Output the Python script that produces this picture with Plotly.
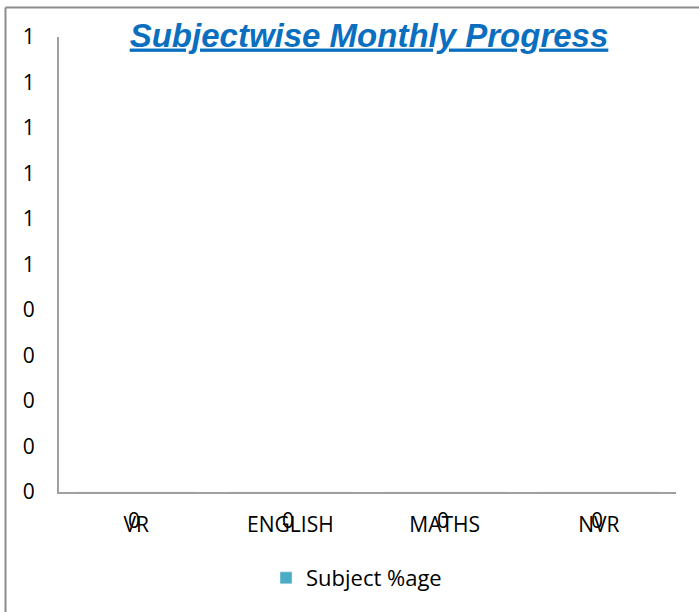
import plotly.graph_objects as go

categories = ["VR", "ENGLISH", "MATHS", "NVR"]
subject_pct = [0, 0, 0, 0]
data_labels = ["0", "0", "0", "0"]
y_tick_values = [0, 0.1, 0.2, 0.3, 0.4, 0.5, 0.6, 0.7, 0.8, 0.9, 1.0]
y_tick_labels = ["0", "0", "0", "0", "0", "1", "1", "1", "1", "1", "1"]
series_name = "Subject %age"
title_text = "Subjectwise Monthly Progress"

W, H = 699, 612
ML, MR, MT, MB = 59, 23, 37, 120
pw = W - ML - MR
ph = H - MT - MB

def px_x(x):
    return (x - ML) / pw

def px_y(y):
    return (H - MB - y) / ph

FONT = "Open Sans"

fig = go.Figure()
fig.add_trace(go.Bar(
    x=categories, y=subject_pct, name=series_name,
    marker_color="#4BACC6", showlegend=True,
))

annotations = []
for c, v, t in zip(categories, subject_pct, data_labels):
    annotations.append(dict(
        x=c, y=v, xref="x", yref="y", text=t, showarrow=False,
        yanchor="middle", xanchor="center", yshift=-28, xshift=-2,
        font=dict(family=FONT, size=21, color="#000000"),
    ))

border = "#8C8C8C"
shapes = [
    dict(type="line", xref="paper", yref="paper",
         x0=px_x(5.5), x1=px_x(5.5), y0=px_y(640), y1=px_y(7.5),
         line=dict(color=border, width=2)),
    dict(type="line", xref="paper", yref="paper",
         x0=px_x(5.5), x1=px_x(720), y0=px_y(7.5), y1=px_y(7.5),
         line=dict(color=border, width=2)),
]

fig.update_layout(
    width=W, height=H,
    margin=dict(l=ML, r=MR, t=MT, b=MB, pad=0),
    paper_bgcolor="white", plot_bgcolor="white",
    title=dict(
        text="<b><i><u>" + title_text + "</u></i></b>",
        x=369 / W, xref="container", xanchor="center",
        y=1 - 35 / H, yref="container", yanchor="middle",
        font=dict(family="Liberation Sans", size=33, color="#0B6FC0"),
    ),
    xaxis=dict(
        showgrid=False, zeroline=False, showline=True,
        linecolor="#A0A0A0", linewidth=2, ticks="",
        tickfont=dict(family=FONT, size=21, color="#000000"),
        ticklabelstandoff=13,
    ),
    yaxis=dict(
        range=[0, 1], showgrid=False, zeroline=False, showline=True,
        linecolor="#A0A0A0", linewidth=2, ticks="",
        tickvals=y_tick_values, ticktext=y_tick_labels,
        tickfont=dict(family=FONT, size=21, color="#000000"),
        ticklabelstandoff=18,
    ),
    legend=dict(
        orientation="h", x=0.5 - 11 / pw, xanchor="center",
        y=px_y(578), yanchor="middle",
        font=dict(family=FONT, size=22, color="#000000"),
        itemwidth=30,
    ),
    annotations=annotations,
    shapes=shapes,
)

fig.write_html(
    "out.html",
    config={"displayModeBar": False},
    post_script="document.body.style.margin='0';document.body.style.overflow='hidden';",
)
